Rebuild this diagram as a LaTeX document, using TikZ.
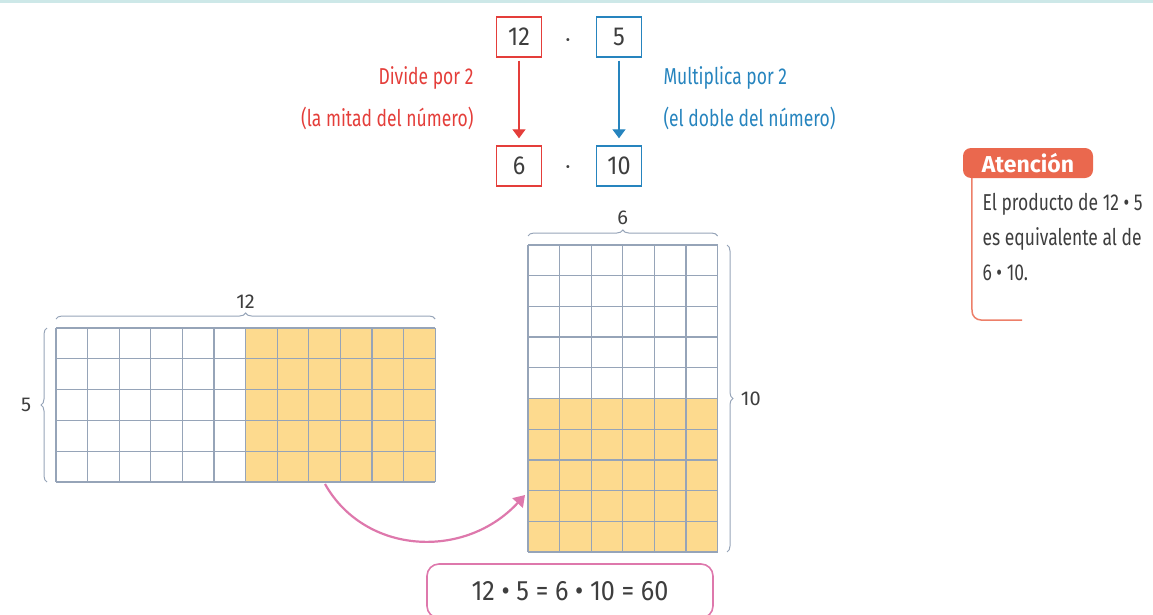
\documentclass[tikz,border=0pt]{standalone}
\usepackage{fontspec}
\setmainfont{Fira Sans}
\newfontfamily\angosta[FakeStretch=0.76]{Fira Sans}
\newfontfamily\media[FakeStretch=0.9]{Fira Sans}
\usetikzlibrary{positioning,decorations.pathreplacing,arrows.meta}
\definecolor{rojo}{RGB}{228,62,58}
\definecolor{azul}{RGB}{38,132,190}
\definecolor{rejilla}{RGB}{150,164,184}
\definecolor{amarillo}{RGB}{253,218,142}
\definecolor{rosa}{RGB}{222,120,172}
\definecolor{naranja}{RGB}{234,104,78}
\definecolor{texto}{RGB}{62,62,62}
\definecolor{borde}{RGB}{205,232,232}
\tikzset{
  numbox/.style={draw, line width=1.4pt, minimum width=45pt, minimum height=40pt,
    text=texto, font=\media\fontsize{26}{28}\selectfont},
  punto/.style={text=texto, font=\fontsize{13}{13}\selectfont},
  flecha/.style={line width=1.4pt, shorten >=7pt, shorten <=3pt,
    -{Triangle[width=13pt,length=9pt]}},
  aviso/.style={font=\angosta\fontsize{23}{25}\selectfont},
  llave/.style={decorate, decoration={brace, amplitude=6pt}, rejilla, line width=1pt},
  medida/.style={text=texto, font=\fontsize{20}{22}\selectfont},
  celda/.style={draw=rejilla, line width=1.3pt},
}
\begin{document}
\begin{tikzpicture}[x=1pt,y=-1pt]
  \useasboundingbox (0,0) rectangle (1153,615);
  \fill[borde] (0,0) rectangle (1153,3);

  % factores de arriba
  \node[numbox, draw=rojo] (doce) at (519,37) {12};
  \node[numbox, draw=azul] (cinco) at (619,37) {5};
  \node[numbox, draw=rojo] (seis) at (519,166) {6};
  \node[numbox, draw=azul] (diez) at (619,166) {10};
  \node[punto] (p1) at (568,42) {•};
  \node[punto] (p2) at (568,169) {•};
  \draw[flecha, rojo] (doce) -- (seis);
  \draw[flecha, azul] (cinco) -- (diez);
  \node[aviso, text=rojo, anchor=east] (div1) at (477,78) {Divide por 2};
  \node[aviso, text=rojo, anchor=east] (div2) at (477,118) {(la mitad del número)};
  \node[aviso, text=azul, anchor=west] (mul1) at (660,78) {Multiplica por 2};
  \node[aviso, text=azul, anchor=west] (mul2) at (660,118) {(el doble del número)};

  % rejilla 12 x 5
  \fill[amarillo] (245.6,328) rectangle (435.2,482);
  \foreach \i in {0,...,12}
    \draw[celda] (56+\i*31.6,328) -- (56+\i*31.6,482);
  \foreach \j in {0,...,5}
    \draw[celda] (56,328+\j*30.8) -- (435.2,328+\j*30.8);
  \draw[llave] (56,319) -- (435.2,319) node[medida, midway, above=7pt] (ancho1) {12};
  \draw[llave] (47,482) -- (47,328) node[medida, midway, left=12pt] (alto1) {5};

  % rejilla 6 x 10
  \fill[amarillo] (528,398.5) rectangle (717.6,552);
  \foreach \i in {0,...,6}
    \draw[celda] (528+\i*31.6,245) -- (528+\i*31.6,552);
  \foreach \j in {0,...,10}
    \draw[celda] (528,245+\j*30.7) -- (717.6,245+\j*30.7);
  \draw[llave] (528,236) -- (717.6,236) node[medida, midway, above=7pt] (ancho2) {6};
  \draw[llave] (727,245) -- (727,552) node[medida, midway, right=10pt] (alto2) {10};

  % flecha rosa
  \coordinate (desde) at (325,484);
  \coordinate (hasta) at (525,495);
  \draw[rosa, line width=2.2pt, -{Triangle[width=14pt,length=11pt]}]
    (desde) .. controls (365,555) and (465,560) .. (hasta);

  % resultado
  \node[draw=rosa, line width=1.6pt, rounded corners=12pt, minimum width=286pt,
    minimum height=54pt, text=texto, font=\media\fontsize{28}{30}\selectfont]
    (resultado) at (570,591) {12 • 5 = 6 • 10 = 60};

  % atencion
  \node[fill=naranja, rounded corners=8pt, minimum width=130pt, minimum height=30pt,
    text=white, font=\bfseries\fontsize{23}{25}\selectfont] (atencion) at (1028,163) {Atención};
  \draw[naranja!85!white, line width=1.5pt, rounded corners=9pt]
    ([xshift=9pt]atencion.south west) -- (972,320) -- (1022,320);
  \node[anchor=north west, align=left, text=texto,
    font=\angosta\fontsize{23}{35}\selectfont] (nota) at (979,190)
    {El producto de 12 • 5\\es equivalente al de\\6 • 10.};
\end{tikzpicture}
\end{document}
